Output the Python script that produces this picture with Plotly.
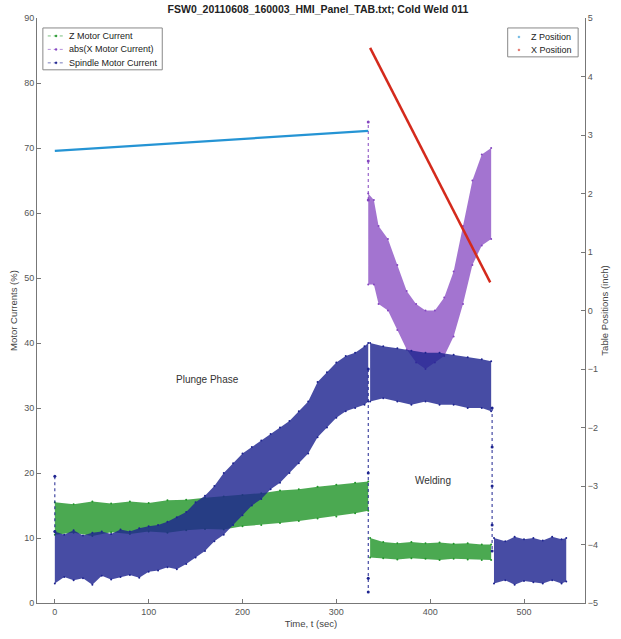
import plotly.graph_objects as go

# ---------------- data ----------------
# Z Motor Current (%) - band envelope (lower / upper) over time
z_cur_t = [0, 20, 40, 60, 80, 100, 120, 140, 160, 180, 200, 220, 240, 260, 280, 300, 320, 334]
z_cur_lo = [10.5, 10.8, 10.3, 10.9, 10.6, 11.0, 10.8, 11.2, 11.4, 11.3, 11.8, 12.0, 12.3, 12.6, 13.0, 13.3, 13.8, 14.2]
z_cur_hi = [15.5, 15.2, 15.6, 15.3, 15.6, 15.4, 15.8, 15.9, 16.2, 16.4, 16.6, 16.9, 17.3, 17.5, 17.9, 18.2, 18.5, 18.7]
z_cur_w_t = [336, 350, 365, 380, 395, 410, 425, 440, 455, 465]
z_cur_w_lo = [7.0, 6.9, 6.7, 6.9, 6.8, 6.6, 6.8, 6.7, 6.6, 6.6]
z_cur_w_hi = [10.0, 9.4, 9.2, 9.4, 9.2, 9.3, 9.1, 9.2, 9.0, 9.0]

# abs(X Motor Current) (%) - band envelope during welding
x_cur_t = [334, 340, 345, 355, 365, 375, 385, 395, 405, 415, 425, 435, 445, 455, 465]
x_cur_lo = [49, 49, 46, 45, 42, 39, 37, 36, 37, 38, 41, 46, 52, 55, 56]
x_cur_hi = [63, 62, 58, 56, 52, 48, 46, 45, 45, 47, 51, 58, 65, 69, 70]

# Spindle Motor Current (%) - band envelope
sp_t = [0, 10, 20, 30, 40, 50, 60, 70, 80, 90, 100, 110, 120, 130, 140, 150, 160, 170,
        180, 190, 200, 210, 220, 230, 240, 250, 260, 270, 280, 290, 300, 310, 320, 330, 334]
sp_lo = [3.0, 4.0, 3.5, 3.8, 2.8, 4.2, 3.6, 4.0, 4.3, 3.9, 4.8, 5.0, 5.5, 5.2, 6.0, 7.0, 8.0, 9.5,
         10.5, 12.0, 13.5, 15.0, 16.0, 17.5, 18.5, 20.0, 21.5, 23.0, 25.5, 27.0, 28.5, 29.5, 30.0, 30.5, 31.0]
sp_hi = [11.0, 10.5, 11.2, 10.4, 10.8, 11.0, 10.6, 11.3, 11.0, 11.5, 11.8, 12.0, 12.5, 13.2, 14.0, 15.5, 16.5, 18.0,
         20.0, 21.5, 23.0, 24.0, 25.0, 26.0, 27.0, 28.0, 29.5, 31.0, 34.0, 35.5, 37.0, 38.0, 38.5, 39.5, 40.0]
sp_w_t = [336, 350, 365, 380, 395, 410, 425, 440, 455, 465]
sp_w_lo = [31.0, 31.5, 31.0, 30.5, 31.0, 30.5, 30.5, 30.0, 30.0, 29.5]
sp_w_hi = [40.0, 39.5, 39.2, 38.8, 38.5, 38.5, 38.2, 37.8, 37.5, 37.2]
sp_p_t = [468, 480, 490, 500, 510, 520, 530, 540, 545]
sp_p_lo = [3.0, 3.5, 2.8, 3.4, 3.2, 3.0, 3.5, 3.0, 3.3]
sp_p_hi = [10.0, 9.5, 10.2, 9.8, 10.0, 9.6, 10.2, 9.8, 10.0]

# isolated points / transitions (dotted vertical runs)
sp_start_t = [0, 0]
sp_start_y = [19.5, 11]
sp_drop1_t = [334, 334, 334, 334]
sp_drop1_y = [36, 20, 3.8, 1.7]
sp_drop2_t = [466, 466, 466, 466, 466]
sp_drop2_y = [30, 24, 18, 12, 8]
x_spike_t = [334, 334, 334]
x_spike_y = [62, 68, 74]

# Table positions (inch)
z_pos_t = [0, 334]
z_pos = [2.73, 3.07]
x_pos_t = [336, 464]
x_pos = [4.49, 0.48]

# axis ticks
x_ticks = [0, 100, 200, 300, 400, 500]
y_left_ticks = [0, 10, 20, 30, 40, 50, 60, 70, 80, 90]
y_right_ticks = [-5, -4, -3, -2, -1, 0, 1, 2, 3, 4, 5]

# legend labels
cur_names = ["Z Motor Current", "abs(X Motor Current)", "Spindle Motor Current"]
pos_names = ["Z Position", "X Position"]

# ---------------- styling ----------------
GREEN = "#23962b"
PURPLE = "#8446c0"
NAVY = "#1e2490"
BLUE = "#2594d4"
RED = "#d42a1c"
FONT = "Liberation Sans, Arial, sans-serif"
W, H = 621, 639
ML, MR, MT, MB = 37, 24, 18, 34


def rgba(hexc, a):
    h = hexc.lstrip("#")
    return f"rgba({int(h[0:2],16)},{int(h[2:4],16)},{int(h[4:6],16)},{a})"


def px(p):  # pixel x -> paper
    return (p - ML) / (W - ML - MR)


def py(p):  # pixel y -> paper
    return (H - MB - p) / (H - MT - MB)


fig = go.Figure()


def band(t, lo, hi, color, alpha=0.82):
    fig.add_trace(go.Scatter(x=t, y=lo, mode="lines", line=dict(width=0, color=color),
                             showlegend=False, hoverinfo="skip"))
    fig.add_trace(go.Scatter(x=t, y=hi, mode="lines", line=dict(width=0, color=color),
                             fill="tonexty", fillcolor=rgba(color, alpha),
                             showlegend=False, hoverinfo="skip"))
    fig.add_trace(go.Scatter(x=t + t, y=lo + hi, mode="markers",
                             marker=dict(size=2, color=color),
                             showlegend=False, hoverinfo="skip"))


def dotted(t, y, color):
    fig.add_trace(go.Scatter(x=t, y=y, mode="lines+markers",
                             line=dict(color=color, width=1, dash="dot"),
                             marker=dict(size=3, color=color), showlegend=False))


# Z motor current
band(z_cur_t, z_cur_lo, z_cur_hi, GREEN)
band(z_cur_w_t, z_cur_w_lo, z_cur_w_hi, GREEN)
# X motor current
band(x_cur_t, x_cur_lo, x_cur_hi, PURPLE, 0.75)
dotted(x_spike_t, x_spike_y, PURPLE)
# Spindle
band(sp_t, sp_lo, sp_hi, NAVY)
band(sp_w_t, sp_w_lo, sp_w_hi, NAVY)
band(sp_p_t, sp_p_lo, sp_p_hi, NAVY)
dotted(sp_start_t, sp_start_y, NAVY)
dotted(sp_drop1_t, sp_drop1_y, NAVY)
dotted(sp_drop2_t, sp_drop2_y, NAVY)

# Positions (right axis)
fig.add_trace(go.Scatter(x=z_pos_t, y=z_pos, mode="lines", yaxis="y2",
                         line=dict(color=BLUE, width=2.2), showlegend=False))
fig.add_trace(go.Scatter(x=x_pos_t, y=x_pos, mode="lines", yaxis="y2",
                         line=dict(color=RED, width=2.5), showlegend=False))

# ---------------- manual legends (MATLAB-like compact boxes) ----------------
shapes = []
annotations = []
# left legend box
shapes.append(dict(type="rect", xref="paper", yref="paper", x0=px(43), x1=px(165),
                   y0=py(70), y1=py(28), line=dict(color="#888", width=1),
                   fillcolor="white", layer="above"))
for i, (name, col) in enumerate(zip(cur_names, [GREEN, PURPLE, NAVY])):
    yc = 36 + i * 13.5
    shapes.append(dict(type="line", xref="paper", yref="paper", x0=px(48), x1=px(65),
                       y0=py(yc), y1=py(yc), line=dict(color=rgba(col, 0.6), width=1, dash="dot"),
                       layer="above"))
    shapes.append(dict(type="circle", xref="paper", yref="paper", x0=px(55.5), x1=px(57.5),
                       y0=py(yc + 1), y1=py(yc - 1), line=dict(color=col, width=0.5),
                       fillcolor=col, layer="above"))
    annotations.append(dict(x=px(68), y=py(yc), xref="paper", yref="paper", text=name,
                            showarrow=False, xanchor="left", yanchor="middle",
                            font=dict(size=9, color="#222")))
# right legend box
shapes.append(dict(type="rect", xref="paper", yref="paper", x0=px(518), x1=px(590),
                   y0=py(57), y1=py(28), line=dict(color="#888", width=1),
                   fillcolor="white", layer="above"))
for i, (name, col) in enumerate(zip(pos_names, [BLUE, RED])):
    yc = 37 + i * 13
    shapes.append(dict(type="circle", xref="paper", yref="paper", x0=px(528.5), x1=px(530.5),
                       y0=py(yc + 1), y1=py(yc - 1), line=dict(color=rgba(col, 0.6), width=0.5),
                       fillcolor=rgba(col, 0.6), layer="above"))
    annotations.append(dict(x=px(540), y=py(yc), xref="paper", yref="paper", text=name,
                            showarrow=False, xanchor="left", yanchor="middle",
                            font=dict(size=9, color="#222")))

annotations += [
    dict(x=163, y=34.4, xref="x", yref="y", text="Plunge Phase", showarrow=False,
         font=dict(size=10, color="#333")),
    dict(x=403, y=18.9, xref="x", yref="y", text="Welding", showarrow=False,
         font=dict(size=10, color="#333")),
]

axis_common = dict(showgrid=False, zeroline=False, showline=True, linecolor="#777",
                   linewidth=1, ticks="inside", ticklen=4, tickcolor="#777",
                   tickfont=dict(size=9, color="#555", family=FONT))

fig.update_layout(
    width=W, height=H,
    margin=dict(l=ML, r=MR, t=MT, b=MB),
    paper_bgcolor="white", plot_bgcolor="white",
    showlegend=False,
    font=dict(family=FONT, size=9, color="#333"),
    title=dict(text="<b>FSW0_20110608_160003_HMI_Panel_TAB.txt; Cold Weld 011</b>",
               x=0.512, xanchor="center", y=0.986, yanchor="middle",
               font=dict(size=10.5, color="#222", family=FONT)),
    xaxis=dict(range=[-19, 565], tickvals=x_ticks,
               title=dict(text="Time, t (sec)", standoff=4,
                          font=dict(size=9.5, color="#444")), **axis_common),
    yaxis=dict(range=[0, 90], tickvals=y_left_ticks,
               title=dict(text="Motor Currents (%)", standoff=4,
                          font=dict(size=9.5, color="#444")), **axis_common),
    yaxis2=dict(range=[-5, 5], tickvals=y_right_ticks, overlaying="y", side="right",
                title=dict(text="Table Positions (inch)", standoff=4,
                           font=dict(size=9.5, color="#444")), **axis_common),
    shapes=shapes,
    annotations=annotations,
)

fig.write_html("out.html")
